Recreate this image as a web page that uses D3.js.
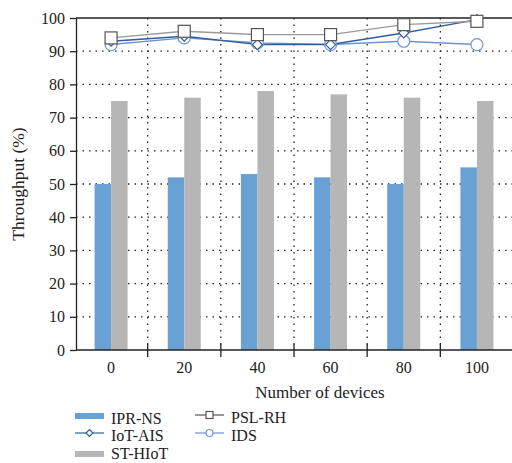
<!DOCTYPE html>
<html>
<head>
<meta charset="utf-8">
<script src="https://cdn.jsdelivr.net/npm/d3@7"></script>
<style>
  body { margin: 0; background: #fff; }
  svg text { font-family: "Liberation Serif", "DejaVu Serif", serif; fill: #222; }
</style>
</head>
<body>
<svg id="chart" width="512" height="463"></svg>
<script>
const devices = ['0', '20', '40', '60', '80', '100'];
const iprNs = [50, 52, 53, 52, 50, 55];
const stHiot = [75, 76, 78, 77, 76, 75];
const pslRh = [94, 96, 95, 95, 98, 99];
const iotAis = [93, 94.5, 92, 92, 95.5, 99.5];
const ids = [92, 94, 92.5, 92, 93, 92];
const yTicks = [0, 10, 20, 30, 40, 50, 60, 70, 80, 90, 100];

const svg = d3.select('svg#chart'),
  margin = {left: 76, right: 0, top: 18, bottom: 113};

const width = 512 - margin.left - margin.right,
  height = 463 - margin.top - margin.bottom;

const g = svg.append('g')
  .attr('transform', `translate(${margin.left},${margin.top})`);

let x = d3.scaleBand().domain(devices).range([-1.5, width + 1.5]).padding(0),
  y = d3.scaleLinear().domain([0, 100]).range([height, 0]);

const barW = 16.5;

// dotted grid
g.append('g')
  .selectAll('line')
  .data(yTicks.filter(d => d > 0 && d < 100))
  .enter().append('line')
  .attr('x1', 0).attr('x2', width)
  .attr('y1', d => y(d)).attr('y2', d => y(d))
  .attr('stroke', '#222').attr('stroke-width', 1.3)
  .attr('stroke-dasharray', '1.5,5');

g.append('g')
  .selectAll('line')
  .data(devices.slice(1))
  .enter().append('line')
  .attr('x1', d => x(d)).attr('x2', d => x(d))
  .attr('y1', 0).attr('y2', height)
  .attr('stroke', '#222').attr('stroke-width', 1.3)
  .attr('stroke-dasharray', '1.5,5');

// bars
g.selectAll('rect.ipr')
  .data(iprNs)
  .enter().append('rect')
  .attr('x', (d, i) => x(devices[i]) + x.bandwidth() / 2 - barW)
  .attr('y', d => y(d))
  .attr('width', barW)
  .attr('height', d => height - y(d))
  .style('fill', '#6aa1d4');

g.selectAll('rect.st')
  .data(stHiot)
  .enter().append('rect')
  .attr('x', (d, i) => x(devices[i]) + x.bandwidth() / 2)
  .attr('y', d => y(d))
  .attr('width', barW)
  .attr('height', d => height - y(d))
  .style('fill', '#b6b6b6');

// axes
g.append('g')
  .attr('class', 'axis yaxis')
  .call(d3.axisLeft(y).tickValues(yTicks).tickSize(6).tickSizeOuter(0))
  .call(a => a.selectAll('text').attr('font-size', 16).attr('dx', '-2'));

g.append('line')
  .attr('x1', 0).attr('x2', width).attr('y1', 0).attr('y2', 0)
  .attr('stroke', '#222').attr('stroke-width', 1.3);

const xa = g.append('g')
  .attr('transform', `translate(0,${height})`);
xa.append('line').attr('x1', 0).attr('x2', width)
  .attr('stroke', '#222').attr('stroke-width', 1.3);
xa.selectAll('line.tk')
  .data(devices.slice(1))
  .enter().append('line')
  .attr('x1', d => x(d)).attr('x2', d => x(d))
  .attr('y1', -6).attr('y2', 7)
  .attr('stroke', '#222').attr('stroke-width', 1.3);
xa.selectAll('text')
  .data(devices)
  .enter().append('text')
  .attr('x', d => x(d) + x.bandwidth() / 2)
  .attr('y', 23)
  .attr('text-anchor', 'middle')
  .attr('font-size', 16)
  .text(d => d);

g.selectAll('.yaxis path, .yaxis line').attr('stroke', '#222').attr('stroke-width', 1.3);

// lines
const series = [
  {name: 'PSL-RH', values: pslRh, color: '#9a9a9a', mark: 'square', mstroke: '#555'},
  {name: 'IoT-AIS', values: iotAis, color: '#2f5f9f', mark: 'diamond', mstroke: '#2f5f9f'},
  {name: 'IDS', values: ids, color: '#6f93d3', mark: 'circle', mstroke: '#6f93d3'}
];

const cx = i => x(devices[i]) + x.bandwidth() / 2;
const line = d3.line().x((d, i) => cx(i)).y(d => y(d));

function marker(sel, s, r) {
  if (s.mark === 'square') {
    sel.append('rect').attr('x', -r).attr('y', -r).attr('width', 2 * r).attr('height', 2 * r);
  } else if (s.mark === 'diamond') {
    sel.append('path').attr('d', `M0,${-r}L${r},0L0,${r}L${-r},0Z`);
  } else {
    sel.append('circle').attr('r', r);
  }
  sel.selectAll('*').attr('fill', '#fff').attr('stroke', s.mstroke).attr('stroke-width', 1.2);
}

series.slice().reverse().forEach(s => {
  g.append('path')
    .datum(s.values)
    .attr('d', line)
    .attr('fill', 'none')
    .attr('stroke', s.color)
    .attr('stroke-width', 1.4);
});
series.slice().reverse().forEach(s => {
  s.values.forEach((v, i) => {
    const m = g.append('g').attr('transform', `translate(${cx(i)},${y(v)})`);
    marker(m, s, s.mark === 'square' ? 6 : (s.mark === 'circle' ? 6 : 5));
  });
});

// titles
svg.append('text')
  .attr('transform', 'translate(24,184) rotate(-90)')
  .attr('text-anchor', 'middle')
  .attr('font-size', 17.5)
  .text('Throughput (%)');

svg.append('text')
  .attr('x', 320).attr('y', 398)
  .attr('text-anchor', 'middle')
  .attr('font-size', 17)
  .text('Number of devices');

// legend
const lg = svg.append('g').attr('font-size', 16);
lg.append('rect').attr('x', 75).attr('y', 413).attr('width', 29).attr('height', 6).attr('fill', '#6aa1d4');
lg.append('text').attr('x', 111).attr('y', 424).text('IPR-NS');
lg.append('rect').attr('x', 75).attr('y', 451).attr('width', 29).attr('height', 6).attr('fill', '#b6b6b6');
lg.append('text').attr('x', 111).attr('y', 459).text('ST-HIoT');

const legLines = [
  {s: series[0], x: 195, y: 415},
  {s: series[1], x: 75, y: 433},
  {s: series[2], x: 195, y: 433}
];
legLines.forEach(d => {
  lg.append('line').attr('x1', d.x).attr('x2', d.x + 29).attr('y1', d.y).attr('y2', d.y)
    .attr('stroke', d.s.name === 'PSL-RH' ? '#555' : d.s.color).attr('stroke-width', 1.2);
  const m = lg.append('g').attr('transform', `translate(${d.x + 14.5},${d.y})`);
  marker(m, d.s, 3.5);
  lg.append('text').attr('x', d.x + 36).attr('y', d.y + 8).text(d.s.name);
});
</script>
</body>
</html>
